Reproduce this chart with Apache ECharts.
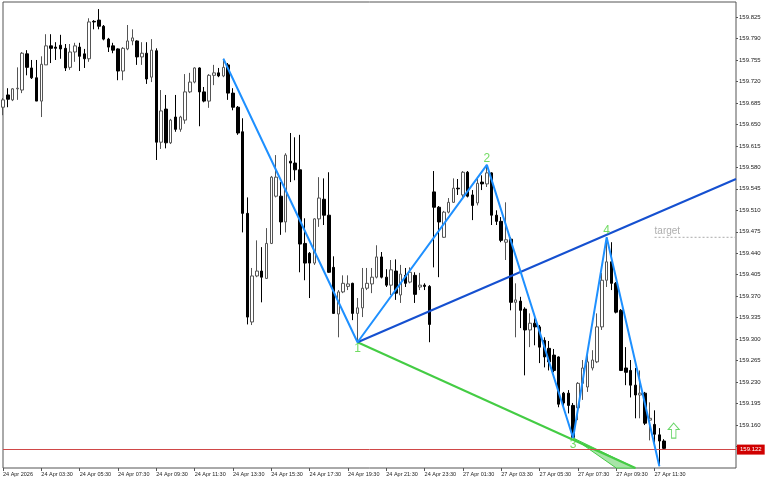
<!DOCTYPE html>
<html><head><meta charset="utf-8">
<script src="https://cdn.jsdelivr.net/npm/echarts@6/dist/echarts.min.js"></script>
<style>html,body{margin:0;padding:0;background:#fff}#c{width:768px;height:480px}</style>
</head><body><div id="c"></div>
<script>
// ---- data (M15 bars) ----
const openP = [159.678,159.698,159.690,159.708,159.706,159.765,159.742,159.726,159.688,159.747,
159.778,159.776,159.779,159.774,159.743,159.768,159.776,159.765,159.757,159.818,
159.820,159.810,159.789,159.778,159.773,159.737,159.773,159.786,159.786,159.760,
159.766,159.727,159.770,159.621,159.675,159.620,159.662,159.642,159.657,159.703,
159.719,159.742,159.703,159.688,159.730,159.734,159.729,159.747,159.701,159.678,
159.638,159.505,159.328,159.403,159.411,159.399,159.456,159.533,159.533,159.491,
159.590,159.587,159.576,159.456,159.440,159.424,159.496,159.528,159.502,159.417,
159.341,159.377,159.386,159.391,159.342,159.351,159.383,159.390,159.401,159.434,
159.401,159.388,159.411,159.372,159.404,159.393,159.404,159.385,159.388,159.386,
159.540,159.515,159.466,159.507,159.523,159.546,159.535,159.572,159.535,159.522,
159.556,159.553,159.571,159.502,159.492,159.458,159.463,159.360,159.362,159.349,
159.315,159.326,159.320,159.298,159.285,159.274,159.271,159.212,159.212,159.192,
159.188,159.228,159.222,159.253,159.263,159.320,159.396,159.426,159.391,159.347,
159.253,159.249,159.225,159.209,159.212,159.168,159.161,159.144,159.134];
const closeP = [159.690,159.691,159.708,159.709,159.766,159.743,159.726,159.688,159.748,159.778,
159.774,159.774,159.773,159.742,159.768,159.778,159.761,159.757,159.817,159.817,
159.810,159.789,159.776,159.771,159.737,159.774,159.786,159.791,159.760,159.766,
159.724,159.771,159.621,159.672,159.620,159.657,159.642,159.662,159.703,159.719,
159.742,159.703,159.688,159.730,159.734,159.729,159.743,159.701,159.678,159.636,
159.505,159.336,159.403,159.411,159.401,159.456,159.564,159.564,159.491,159.600,
159.587,159.576,159.455,159.424,159.424,159.496,159.530,159.502,159.409,159.342,
159.377,159.391,159.390,159.342,159.351,159.383,159.391,159.401,159.434,159.401,
159.388,159.413,159.375,159.406,159.391,159.409,159.373,159.388,159.386,159.324,
159.515,159.491,159.507,159.523,159.546,159.545,159.572,159.533,159.518,159.554,
159.553,159.571,159.502,159.492,159.461,159.462,159.360,159.364,159.347,159.315,
159.326,159.320,159.287,159.271,159.263,159.249,159.194,159.196,159.192,159.140,
159.228,159.253,159.263,159.266,159.320,159.396,159.426,159.391,159.344,159.249,
159.246,159.225,159.209,159.212,159.163,159.171,159.145,159.134,159.122];
const lowP = [159.665,159.678,159.688,159.690,159.701,159.730,159.724,159.688,159.662,159.747,
159.750,159.755,159.757,159.737,159.739,159.752,159.737,159.742,159.752,159.805,
159.805,159.787,159.768,159.766,159.722,159.722,159.771,159.779,159.747,159.747,
159.716,159.719,159.592,159.610,159.611,159.618,159.638,159.638,159.651,159.701,
159.717,159.647,159.686,159.677,159.714,159.727,159.727,159.690,159.673,159.633,
159.474,159.324,159.323,159.401,159.360,159.398,159.455,159.531,159.470,159.474,
159.556,159.559,159.409,159.396,159.367,159.421,159.483,159.486,159.408,159.341,
159.303,159.375,159.380,159.331,159.295,159.336,159.380,159.375,159.399,159.399,
159.385,159.372,159.364,159.359,159.385,159.391,159.359,159.380,159.380,159.295,
159.417,159.401,159.465,159.505,159.522,159.535,159.531,159.531,159.494,159.518,
159.543,159.548,159.486,159.486,159.458,159.429,159.347,159.303,159.318,159.241,
159.287,159.290,159.261,159.254,159.249,159.246,159.189,159.189,159.179,159.139,
159.168,159.201,159.214,159.249,159.261,159.315,159.385,159.380,159.342,159.248,
159.225,159.205,159.171,159.171,159.160,159.135,159.127,159.093,159.121];
const highP = [159.693,159.709,159.709,159.743,159.768,159.771,159.755,159.755,159.761,159.797,
159.797,159.784,159.796,159.781,159.781,159.783,159.783,159.773,159.823,159.820,
159.838,159.812,159.791,159.783,159.774,159.776,159.812,159.805,159.787,159.784,
159.784,159.789,159.774,159.706,159.698,159.659,159.698,159.664,159.732,159.734,
159.743,159.743,159.711,159.732,159.747,159.742,159.757,159.750,159.709,159.680,
159.660,159.531,159.416,159.461,159.450,159.481,159.566,159.600,159.556,159.603,
159.636,159.629,159.633,159.497,159.442,159.497,159.564,159.562,159.572,159.435,
159.380,159.404,159.404,159.392,159.367,159.416,159.416,159.416,159.453,159.442,
159.414,159.429,159.430,159.421,159.416,159.417,159.409,159.408,159.391,159.388,
159.574,159.517,159.509,159.530,159.562,159.561,159.574,159.574,159.543,159.562,
159.567,159.584,159.572,159.510,159.499,159.523,159.466,159.391,159.369,159.352,
159.342,159.334,159.323,159.303,159.297,159.284,159.272,159.214,159.217,159.196,
159.230,159.266,159.274,159.282,159.342,159.408,159.466,159.458,159.393,159.349,
159.287,159.266,159.253,159.249,159.214,159.197,159.184,159.155,159.137];

const xTickLabels = ['24 Apr 2026','24 Apr 03:30','24 Apr 05:30','24 Apr 07:30','24 Apr 09:30',
'24 Apr 11:30','24 Apr 13:30','24 Apr 15:30','24 Apr 17:30','24 Apr 19:30','24 Apr 21:30',
'24 Apr 23:30','27 Apr 01:30','27 Apr 03:30','27 Apr 05:30','27 Apr 07:30','27 Apr 09:30','27 Apr 11:30'];

// wave pivots (bar index, price, label)
const pivotIdx = [46, 74, 101, 119, 126, 137];
const pivotVal = [159.757, 159.295, 159.584, 159.139, 159.466, 159.093];
const pivotName = ['', '1', '2', '3', '4', '5'];

const upperTrend = [[74, 159.295], [153, 159.561]];
const lowerTrend = [[74, 159.295], [131.5, 159.090]];
const wedge = [[119, 159.139], [131.5, 159.090], [127.8, 159.090]];
const targetLine = [[136, 159.466], [153, 159.466]];
const targetText = 'target';
const lastPrice = 159.122;
const arrowPoint = [140, 159.151];

const yMin = 159.090, yMax = 159.8495, yStep = 0.035;
const totalSlots = 154; // bars + empty chart shift on the right

// bar times (M15, weekend skipped)
const categories = [];
for (let i = 0; i < totalSlots; i++) {
  let day, m;
  if (i < 90) { day = 24; m = 90 + 15 * i; } else { day = 27; m = 15 * (i - 90); }
  categories.push(day + ' Apr ' + String(Math.floor(m / 60)).padStart(2, '0') + ':' + String(m % 60).padStart(2, '0'));
}

const candles = openP.map((o, i) => [o, closeP[i], lowP[i], highP[i]]);
const showTick = (i) => i % 8 === 0 && i / 8 < xTickLabels.length;
const FONT = 'Liberation Sans';

const pivotLabels = pivotIdx.map((x, i) => {
  const prev = i > 0 ? pivotVal[i - 1] : pivotVal[i + 1];
  const isHigh = pivotVal[i] > prev;
  return {
    value: [x, pivotVal[i]],
    label: { show: pivotName[i] !== '' && pivotName[i] !== '5', formatter: pivotName[i],
             position: isHigh ? 'top' : 'bottom', distance: 0 }
  };
});

const chart = echarts.init(document.getElementById('c'), null, { renderer: 'canvas' });
chart.setOption({
  animation: false,
  backgroundColor: '#fff',
  grid: { left: 2, right: 32, top: 2, bottom: 12, show: true, borderColor: '#555', borderWidth: 1 },
  xAxis: {
    type: 'category', data: categories, boundaryGap: false,
    axisLine: { show: false }, splitLine: { show: false },
    axisTick: { show: true, interval: showTick, length: 3, lineStyle: { color: '#555' } },
    axisLabel: { interval: showTick, formatter: (v, i) => xTickLabels[i / 8] || '', align: 'left',
                 margin: 3, fontSize: 5.5, color: '#222', fontFamily: FONT }
  },
  yAxis: {
    type: 'value', position: 'right', min: yMin, max: yMax, interval: yStep,
    axisLine: { show: false }, splitLine: { show: false },
    axisTick: { show: true, length: 2, lineStyle: { color: '#555' } },
    axisLabel: { margin: 3, fontSize: 6, color: '#222', fontFamily: FONT, showMinLabel: false, showMaxLabel: false,
                 formatter: v => (v < 159.15 || v > 159.83) ? '' : v.toFixed(3) }
  },
  series: [
    {
      type: 'candlestick', data: candles, barWidth: 3, z: 2,
      itemStyle: { color: '#fff', color0: '#000', borderColor: '#555', borderColor0: '#000',
                   borderColorDoji: '#555', borderWidth: 1 },
      markLine: {
        silent: true, symbol: 'none', animation: false,
        data: [{ yAxis: lastPrice }],
        lineStyle: { color: '#D04848', width: 1, type: 'solid' },
        label: { show: true, position: 'end', formatter: lastPrice.toFixed(3), backgroundColor: '#D00000',
                 color: '#fff', fontSize: 6, fontFamily: FONT, padding: [2, 3], distance: 1 }
      }
    },
    {
      type: 'custom', z: 3, data: [wedge[0]],
      renderItem: (params, api) => ({
        type: 'polygon',
        shape: { points: wedge.map(p => api.coord(p)) },
        style: { fill: '#A8E4A8', stroke: '#44CC44', lineWidth: 1 }
      })
    },
    { type: 'line', data: lowerTrend, symbol: 'none', z: 4, lineStyle: { color: '#44CC44', width: 2 } },
    { type: 'line', data: upperTrend, symbol: 'none', z: 4, lineStyle: { color: '#1550D0', width: 2 } },
    { type: 'line', data: pivotIdx.map((x, i) => [x, pivotVal[i]]), symbol: 'none', z: 5,
      lineStyle: { color: '#1E90FF', width: 2 } },
    { type: 'scatter', data: pivotLabels, symbolSize: 1, z: 6, itemStyle: { color: 'rgba(0,0,0,0)' },
      label: { color: '#4FD23C', fontSize: 12, fontFamily: FONT } },
    { type: 'line', data: targetLine, symbol: 'none', z: 4, lineStyle: { color: '#AAAAAA', width: 1, type: [2, 2] } },
    { type: 'scatter', data: [targetLine[0]], symbolSize: 1, z: 6, itemStyle: { color: 'rgba(0,0,0,0)' },
      label: { show: true, formatter: targetText, position: 'top', align: 'left', distance: 1,
               color: '#999', fontSize: 10, fontFamily: FONT } },
    { type: 'scatter', data: [arrowPoint], z: 6,
      symbol: 'path://M5,0 L10,6 L7,6 L7,14 L3,14 L3,6 L0,6 Z', symbolSize: [11, 15],
      itemStyle: { color: '#fff', borderColor: '#44CC44', borderWidth: 1 } }
  ]
});
</script>
</body></html>
